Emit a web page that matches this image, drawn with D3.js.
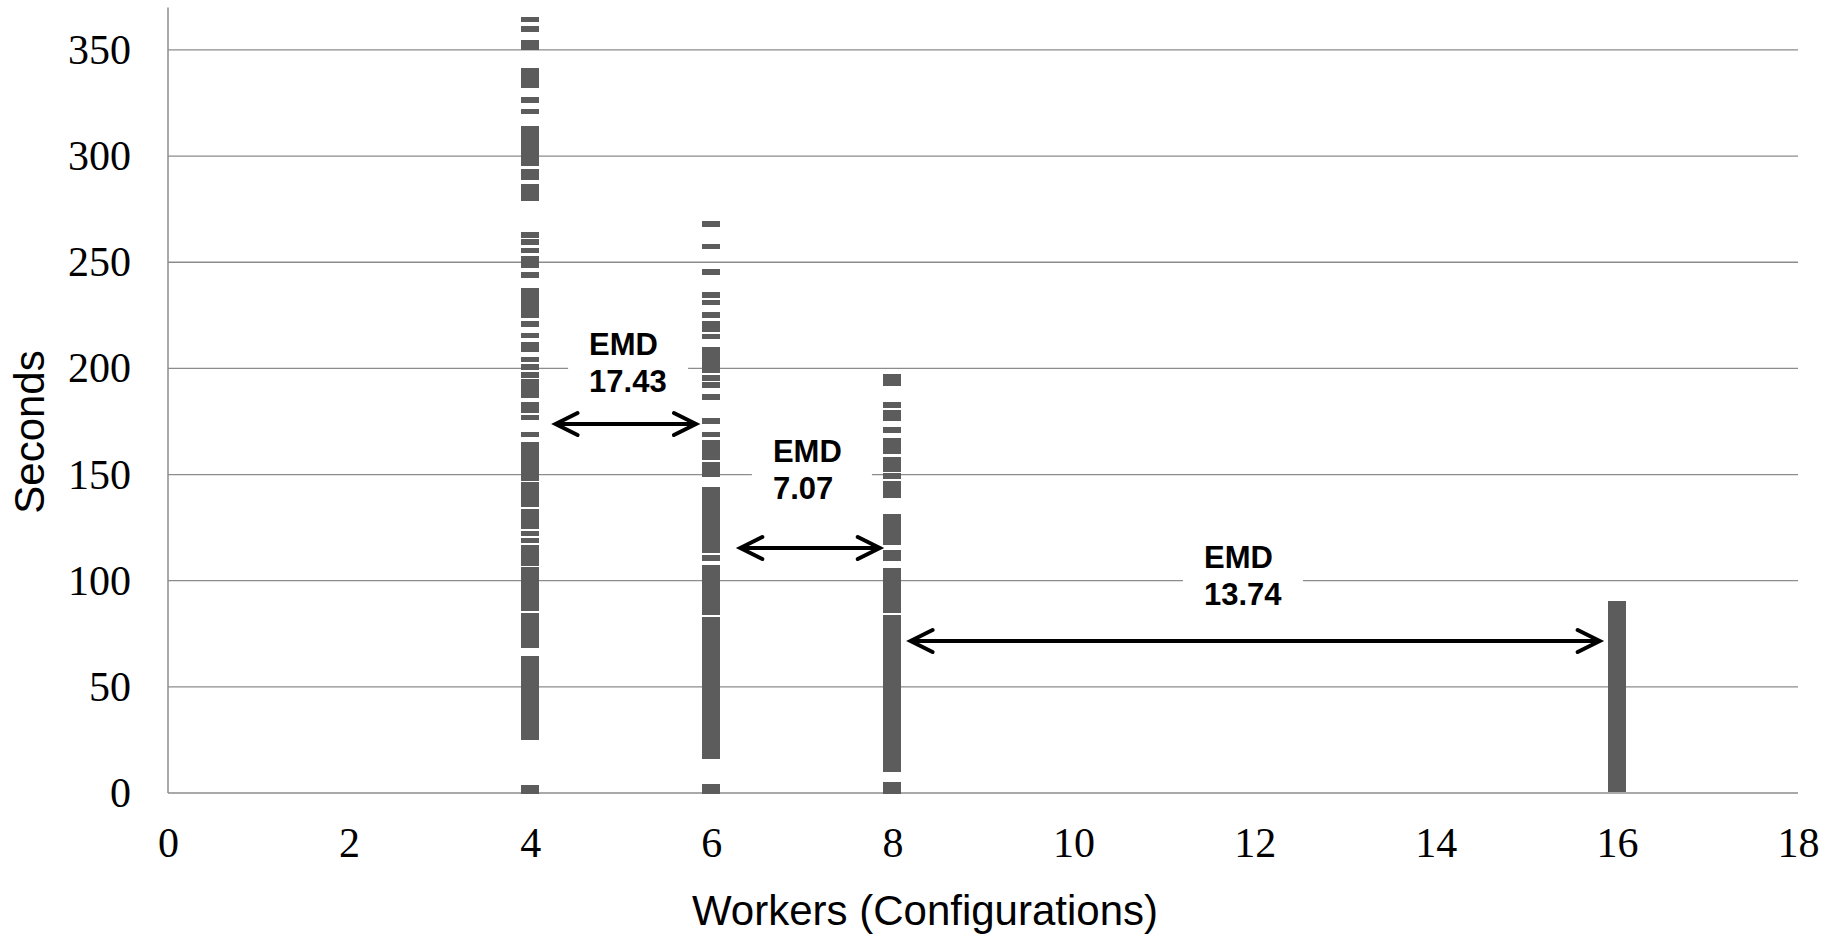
<!DOCTYPE html>
<html>
<head>
<meta charset="utf-8">
<script src="https://cdn.jsdelivr.net/npm/d3@7"></script>
<style>
  html, body { margin: 0; padding: 0; background: #fff; }
  svg { display: block; }
</style>
</head>
<body>
<svg id="chart" width="1841" height="940"></svg>
<script>
// Worker configurations on the x axis
const workerCounts = [4, 6, 8, 16];

// Run times (seconds) observed for each configuration
const times4 = [364.3, 359.9, 353.5, 351.1, 340, 337.5, 335, 333.5, 326.4, 321,
  312.8, 310.4, 308, 306, 303.3, 301, 298.6, 296.7, 292.4, 290.2, 285.6, 283.4, 281.8, 280,
  262.8, 259.6, 255.5, 251.5, 248.7, 244, 236.7, 234, 231.7, 229, 227, 225, 221, 215.5,
  211.3, 209, 204.2, 200.7, 196.9, 193.6, 191.2, 189.8, 187.5, 182.8, 180.4, 176.8,
  168.9, 164.2, 162, 160.2, 157.8, 155.4, 153, 150.7, 148.4, 145, 142.7, 140.4, 138, 136,
  132.4, 130, 127.6, 125.8, 122.2, 118.9, 115.4, 113, 110.7, 108.3, 105, 102.7, 100.3,
  98.4, 96.1, 93.7, 91.4, 89, 87.1, 83.4, 81, 79.1, 76.8, 74.4, 72.1, 69.7,
  63.3, 61.5, 59.4, 57.2, 55.3, 53.1, 51, 49.2, 47, 45.1, 43, 40.8, 38.9, 36.8, 34.6,
  32.7, 30.5, 28.4, 26.1, 2.3, 1];

const times6 = [268, 257.4, 245.4, 234.6, 231, 225.1, 220.9, 218.6, 215, 208.7, 206.3,
  204, 201, 199.2, 195.5, 192.2, 186.5, 175.2, 168.9, 164.9, 162.5, 160.2, 158.3, 154.5,
  152.1, 150.3, 142.7, 140.4, 138, 135.7, 133.4, 131, 128.7, 126.3, 124, 121.6, 119.3,
  117, 114.6, 110.7, 106, 103.7, 101.4, 99, 96.6, 94.3, 92, 89.6, 87.2, 85.3,
  81.7, 79.5, 77.2, 75, 72.8, 70.5, 68.1, 66, 63.8, 61.4, 59.3, 57, 54.8, 52.5, 50.3,
  48.1, 45.8, 43.6, 41.3, 39.2, 36.9, 34.7, 32.4, 30.2, 27.9, 25.8, 23.5, 21.2, 18.9,
  17.2, 3, 1];

const times8 = [196, 193.1, 182.8, 179, 176.6, 171, 165.8, 163.4, 161.1, 156.9, 154.5,
  152.6, 149.3, 145.5, 143.2, 140.4, 130, 127.6, 125.3, 122.9, 120.6, 118.2, 113, 110.7,
  104.6, 102.2, 99.9, 97.5, 95.1, 92.8, 90.4, 88.1, 86.2, 82.4, 80.2, 77.9, 75.7, 73.3,
  71.2, 68.9, 66.6, 64.5, 62.6, 60.3, 58.1, 55.8, 53.6, 51.4, 49.1, 46.9, 44.6, 42.4,
  40.1, 37.9, 35.7, 33.4, 31.2, 28.9, 26.7, 24.4, 22.2, 20, 17.7, 15.5, 13.3, 11.3,
  3.8, 1];

const times16 = [89, 86.8, 84.5, 82.3, 80, 77.8, 75.6, 73.3, 71.1, 68.8, 66.6, 64.4,
  62.1, 59.9, 57.6, 55.4, 53.2, 50.9, 48.7, 46.4, 44.2, 42, 39.7, 37.5, 35.2, 33, 30.8,
  28.5, 26.3, 24, 21.8, 19.6, 17.3, 15.1, 12.8, 10.6, 8.4, 6.1, 3.9, 1.7];

const seriesTimes = [times4, times6, times8, times16];

// Axis ticks
const xTicks = [0, 2, 4, 6, 8, 10, 12, 14, 16, 18];
const yTicks = [0, 50, 100, 150, 200, 250, 300, 350];

// Earth mover's distance between neighbouring configurations
const emdLabels = ["17.43", "7.07", "13.74"];
const emdFrom = [4.28, 6.32, 8.2];
const emdTo = [5.83, 7.86, 15.81];
const emdArrowY = [173.8, 115.4, 71.6];
const emdTextX = [4.65, 6.68, 11.44];
const emdGridY = [200, 150, 100];

const svg = d3.select("#chart");
const plot = { left: 168, right: 1798, top: 7.5, bottom: 793 };

const x = d3.scaleLinear().domain([0, 18]).range([plot.left, plot.right]);
const y = d3.scaleLinear().domain([0, 370]).range([plot.bottom, plot.top]);

const serif = "'Times New Roman', 'Liberation Serif', serif";
const sans = "Arial, 'Liberation Sans', sans-serif";

// Horizontal gridlines
svg.append("g")
  .selectAll("line")
  .data(yTicks.filter(d => d > 0))
  .join("line")
  .attr("x1", plot.left).attr("x2", plot.right)
  .attr("y1", d => y(d)).attr("y2", d => y(d))
  .attr("stroke", "#8c8c8c").attr("stroke-width", 1.3);

// Axes (lines only, tick marks hidden)
const yAxis = svg.append("g")
  .attr("transform", `translate(${plot.left},0)`)
  .call(d3.axisLeft(y).tickValues(yTicks).tickSize(0).tickPadding(37));
yAxis.select(".domain").attr("stroke", "#8c8c8c").attr("stroke-width", 1.5)
  .attr("d", `M0,${plot.bottom}V${plot.top}`);
yAxis.selectAll("text")
  .attr("font-family", serif).attr("font-size", 42).attr("fill", "#000")
  .attr("dy", "0.32em");

const xAxis = svg.append("g")
  .attr("transform", `translate(0,${plot.bottom})`)
  .call(d3.axisBottom(x).tickValues(xTicks).tickSize(0).tickPadding(34));
xAxis.select(".domain").attr("stroke", "#8c8c8c").attr("stroke-width", 1.5)
  .attr("d", `M${plot.left},0H${plot.right}`);
xAxis.selectAll("text")
  .attr("font-family", serif).attr("font-size", 42).attr("fill", "#000")
  .attr("dy", "0.71em");

// Axis titles
svg.append("text")
  .attr("x", 925).attr("y", 925)
  .attr("text-anchor", "middle")
  .attr("font-family", sans).attr("font-size", 42).attr("fill", "#000")
  .text("Workers (Configurations)");

svg.append("text")
  .attr("transform", "translate(44,432) rotate(-90)")
  .attr("text-anchor", "middle")
  .attr("font-family", sans).attr("font-size", 42).attr("fill", "#000")
  .text("Seconds");

// Dash markers, one per run
const points = [];
workerCounts.forEach((w, i) => seriesTimes[i].forEach(t => points.push({ w, t })));

const dashW = 18, dashH = 5.6;
svg.append("g")
  .attr("shape-rendering", "crispEdges")
  .selectAll("rect")
  .data(points)
  .join("rect")
  .attr("x", d => x(d.w) - dashW / 2)
  .attr("y", d => y(d.t) - dashH / 2)
  .attr("width", dashW)
  .attr("height", dashH)
  .attr("fill", "#5c5c5c");

// EMD annotations: white label box over the gridline, two-line bold text, double arrow
const ann = svg.append("g");
emdLabels.forEach((lab, i) => {
  const tx = x(emdTextX[i]);
  const gy = y(emdGridY[i]);
  ann.append("rect")
    .attr("x", tx - 21).attr("y", gy - 36)
    .attr("width", 120).attr("height", 72)
    .attr("fill", "#fff");
  const t = ann.append("text")
    .attr("font-family", sans).attr("font-size", 31).attr("font-weight", "bold")
    .attr("fill", "#000");
  t.append("tspan").attr("x", tx).attr("y", gy - 13).text("EMD");
  t.append("tspan").attr("x", tx).attr("y", gy + 24).text(lab);

  const x1 = x(emdFrom[i]), x2 = x(emdTo[i]), ay = y(emdArrowY[i]);
  ann.append("line")
    .attr("x1", x1 + 2).attr("x2", x2 - 2)
    .attr("y1", ay).attr("y2", ay)
    .attr("stroke", "#000").attr("stroke-width", 4);
  ann.append("path")
    .attr("d", `M${x1 + 22},${ay - 11}L${x1},${ay}L${x1 + 22},${ay + 11}` +
               `M${x2 - 22},${ay - 11}L${x2},${ay}L${x2 - 22},${ay + 11}`)
    .attr("fill", "none").attr("stroke", "#000").attr("stroke-width", 4)
    .attr("stroke-linecap", "round").attr("stroke-linejoin", "miter");
});
</script>
</body>
</html>
